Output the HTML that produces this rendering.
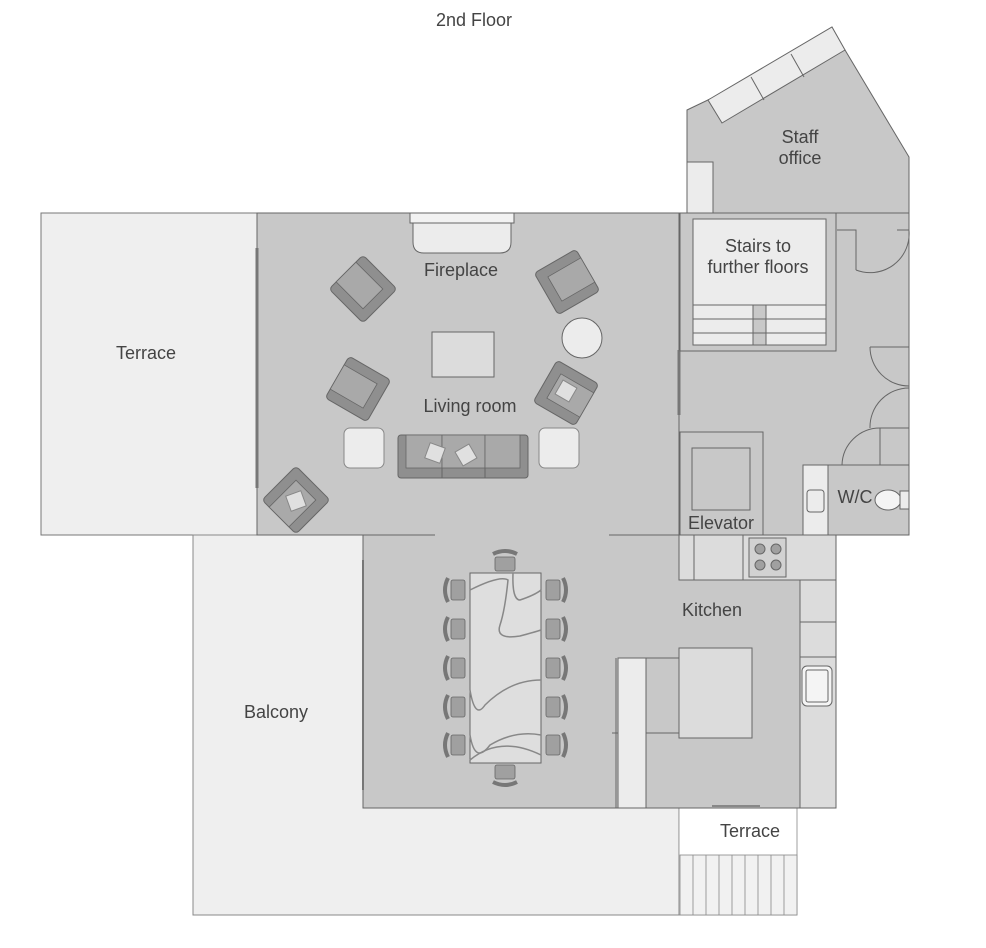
<!DOCTYPE html>
<html><head><meta charset="utf-8"><style>
html,body{margin:0;padding:0;background:#fff;}
svg{display:block}
text{font-family:"Liberation Sans",sans-serif;fill:#444;}
</style></head><body>
<svg width="986" height="948" viewBox="0 0 986 948" xmlns="http://www.w3.org/2000/svg">
<defs>
<g id="arm">
<rect x="-24" y="-24" width="48" height="48" rx="4" fill="#8f8f8f" stroke="#666" stroke-width="1"/>
<rect x="-14" y="-14" width="28" height="38" fill="#a9a9a9" stroke="#666" stroke-width="0.8"/>
</g>
<g id="chairL">
<path d="M-4,-12 Q-10,0 -4,12" fill="none" stroke="#777" stroke-width="4"/>
<rect x="-1" y="-10" width="14" height="20" rx="2" fill="#a0a0a0" stroke="#666" stroke-width="0.8"/>
</g>
</defs>
<text x="474" y="26" font-size="18" text-anchor="middle">2nd Floor</text>

<polygon points="687,110 710,99 845,50 909,157 909,535 687,535" fill="#c8c8c8" stroke="#666" stroke-width="1"/>
<polygon points="708,100 832,27 845,50 722,123" fill="#ececec" stroke="#666" stroke-width="1"/>
<line x1="751" y1="77" x2="764" y2="100" stroke="#666"/>
<line x1="791" y1="54" x2="804" y2="77" stroke="#666"/>
<rect x="687" y="162" width="26" height="51" fill="#ececec" stroke="#666"/>
<text x="800" y="143" font-size="18" text-anchor="middle">Staff</text>
<text x="800" y="164" font-size="18" text-anchor="middle">office</text>

<rect x="41" y="213" width="216" height="322" fill="#efefef" stroke="#777"/>
<text x="146" y="359" font-size="18" text-anchor="middle">Terrace</text>
<rect x="193" y="535" width="486" height="380" fill="#efefef" stroke="#888"/>
<text x="276" y="718" font-size="18" text-anchor="middle">Balcony</text>
<rect x="679" y="808" width="118" height="107" fill="#fff" stroke="#888" stroke-width="0.8"/>
<g stroke="#888" stroke-width="0.8" fill="#f1f1f1">
<rect x="680" y="855" width="117" height="60"/>
<line x1="693" y1="855" x2="693" y2="915"/><line x1="706" y1="855" x2="706" y2="915"/>
<line x1="719" y1="855" x2="719" y2="915"/><line x1="732" y1="855" x2="732" y2="915"/>
<line x1="745" y1="855" x2="745" y2="915"/><line x1="758" y1="855" x2="758" y2="915"/>
<line x1="771" y1="855" x2="771" y2="915"/><line x1="784" y1="855" x2="784" y2="915"/>
</g>
<text x="750" y="837" font-size="18" text-anchor="middle">Terrace</text>

<rect x="257" y="213" width="422" height="322" fill="#c8c8c8" stroke="#666"/>
<line x1="257" y1="248" x2="257" y2="488" stroke="#777" stroke-width="3"/>
<rect x="679" y="213" width="230" height="322" fill="#c8c8c8" stroke="#666"/>
<line x1="679" y1="350" x2="679" y2="415" stroke="#777" stroke-width="3"/>
<rect x="680" y="213" width="156" height="138" fill="none" stroke="#666"/>
<rect x="693" y="219" width="133" height="126" fill="#ececec" stroke="#666"/>
<rect x="753" y="305" width="13" height="40" fill="#c8c8c8" stroke="#666"/>
<g stroke="#666"><line x1="693" y1="305" x2="826" y2="305"/><line x1="693" y1="319" x2="826" y2="319"/><line x1="693" y1="333" x2="826" y2="333"/></g>
<text x="758" y="252" font-size="18" text-anchor="middle">Stairs to</text>
<text x="758" y="273" font-size="18" text-anchor="middle">further floors</text>
<g fill="none" stroke="#666">
<path d="M837,230 H856 V270"/><path d="M856,270 A39,39 0 0 0 909,230"/><line x1="897" y1="230" x2="909" y2="230"/>
<line x1="870" y1="347" x2="909" y2="347"/><path d="M870,347 A39,39 0 0 0 909,386"/>
<path d="M909,388 A39,39 0 0 0 870,428"/><line x1="880" y1="428" x2="909" y2="428"/>
<line x1="880" y1="428" x2="880" y2="465"/><line x1="880" y1="465" x2="909" y2="465"/>
<path d="M880,428 A38,38 0 0 0 842,465"/>
</g>
<rect x="680" y="432" width="83" height="103" fill="#c8c8c8" stroke="#666"/>
<rect x="692" y="448" width="58" height="62" fill="#c8c8c8" stroke="#666"/>
<text x="721" y="529" font-size="18" text-anchor="middle">Elevator</text>
<rect x="803" y="465" width="106" height="70" fill="#c8c8c8" stroke="#666"/>
<rect x="803" y="465" width="25" height="70" fill="#ececec" stroke="#666"/>
<rect x="807" y="490" width="17" height="22" rx="3" fill="#ececec" stroke="#666"/>
<ellipse cx="888" cy="500" rx="13" ry="10" fill="#f4f4f4" stroke="#666"/>
<rect x="900" y="491" width="9" height="18" fill="#ececec" stroke="#666"/>
<text x="855" y="503" font-size="18" text-anchor="middle">W/C</text>

<rect x="410" y="213" width="104" height="10" fill="#f2f2f2" stroke="#666"/>
<path d="M413,223 H511 V242 Q511,253 500,253 H424 Q413,253 413,242 Z" fill="#ececec" stroke="#666"/>
<text x="461" y="276" font-size="18" text-anchor="middle">Fireplace</text>
<rect x="432" y="332" width="62" height="45" fill="#dcdcdc" stroke="#666"/>
<circle cx="582" cy="338" r="20" fill="#ececec" stroke="#666"/>
<text x="470" y="412" font-size="18" text-anchor="middle">Living room</text>
<rect x="344" y="428" width="40" height="40" rx="6" fill="#ececec" stroke="#888"/>
<rect x="539" y="428" width="40" height="40" rx="6" fill="#ececec" stroke="#888"/>
<rect x="398" y="435" width="130" height="43" rx="3" fill="#8f8f8f" stroke="#666"/>
<rect x="406" y="435" width="36" height="33" fill="#a9a9a9" stroke="#666" stroke-width="0.8"/>
<rect x="442" y="435" width="43" height="33" fill="#a9a9a9" stroke="#666" stroke-width="0.8"/>
<rect x="485" y="435" width="35" height="33" fill="#a9a9a9" stroke="#666" stroke-width="0.8"/>
<line x1="442" y1="468" x2="442" y2="478" stroke="#666"/><line x1="485" y1="468" x2="485" y2="478" stroke="#666"/>
<rect x="427" y="445" width="16" height="16" fill="#e0e0e0" stroke="#888" transform="rotate(20 435 453)"/>
<rect x="458" y="447" width="16" height="16" fill="#e0e0e0" stroke="#888" transform="rotate(-30 466 455)"/>
<use href="#arm" transform="translate(363,289) rotate(135)"/>
<use href="#arm" transform="translate(567,282) rotate(-120)"/>
<use href="#arm" transform="translate(358,389) rotate(120)"/>
<use href="#arm" transform="translate(566,393) rotate(-60)"/>
<use href="#arm" transform="translate(296,500) rotate(45)"/>
<rect x="558" y="383" width="16" height="16" fill="#e0e0e0" stroke="#888" transform="rotate(30 566 391)"/>
<rect x="288" y="493" width="16" height="16" fill="#e0e0e0" stroke="#888" transform="rotate(-20 296 501)"/>

<rect x="363" y="535" width="473" height="273" fill="#c8c8c8" stroke="#666"/>
<line x1="435" y1="535" x2="609" y2="535" stroke="#c8c8c8" stroke-width="2"/>
<line x1="363" y1="560" x2="363" y2="790" stroke="#777" stroke-width="2"/>
<rect x="679" y="535" width="157" height="45" fill="#dcdcdc" stroke="#666"/>
<line x1="694" y1="535" x2="694" y2="580" stroke="#666"/><line x1="743" y1="535" x2="743" y2="580" stroke="#666"/>
<rect x="749" y="538" width="37" height="39" fill="#d2d2d2" stroke="#666"/>
<g fill="#a0a0a0" stroke="#666"><circle cx="760" cy="549" r="5"/><circle cx="776" cy="549" r="5"/><circle cx="760" cy="565" r="5"/><circle cx="776" cy="565" r="5"/></g>
<rect x="800" y="580" width="36" height="228" fill="#dcdcdc" stroke="#666"/>
<line x1="800" y1="622" x2="836" y2="622" stroke="#666"/><line x1="800" y1="657" x2="836" y2="657" stroke="#666"/>
<rect x="802" y="666" width="30" height="40" rx="5" fill="#f4f4f4" stroke="#666"/>
<rect x="806" y="670" width="22" height="32" rx="2" fill="#f4f4f4" stroke="#666"/>
<text x="712" y="616" font-size="18" text-anchor="middle">Kitchen</text>
<rect x="679" y="648" width="73" height="90" fill="#dcdcdc" stroke="#666"/>
<line x1="646" y1="658" x2="679" y2="658" stroke="#666"/><line x1="612" y1="733" x2="679" y2="733" stroke="#666"/>
<rect x="618" y="658" width="28" height="150" fill="#ececec" stroke="#666"/>
<line x1="616" y1="658" x2="616" y2="808" stroke="#666"/>
<line x1="712" y1="806" x2="760" y2="806" stroke="#888" stroke-width="2"/>

<use href="#chairL" transform="translate(452,590)"/><use href="#chairL" transform="translate(452,629)"/>
<use href="#chairL" transform="translate(452,668)"/><use href="#chairL" transform="translate(452,707)"/>
<use href="#chairL" transform="translate(452,745)"/>
<use href="#chairL" transform="translate(559,590) scale(-1,1)"/><use href="#chairL" transform="translate(559,629) scale(-1,1)"/>
<use href="#chairL" transform="translate(559,668) scale(-1,1)"/><use href="#chairL" transform="translate(559,707) scale(-1,1)"/>
<use href="#chairL" transform="translate(559,745) scale(-1,1)"/>
<use href="#chairL" transform="translate(505,558) rotate(90)"/>
<use href="#chairL" transform="translate(505,778) rotate(-90)"/>
<rect x="470" y="573" width="71" height="190" fill="#dedede" stroke="#666"/>
<g fill="none" stroke="#888" stroke-width="1.5">
<path d="M470,590 Q500,575 508,580 Q505,610 500,625 Q495,640 520,636 Q535,632 541,630"/>
<path d="M513,573 Q512,600 520,600 Q535,595 541,590"/>
<path d="M470,690 Q475,720 485,705 Q510,680 541,680"/>
<path d="M470,735 Q475,765 490,745 Q515,730 541,735"/>
<path d="M470,760 Q500,735 541,755"/>
</g>
</svg>
</body></html>
